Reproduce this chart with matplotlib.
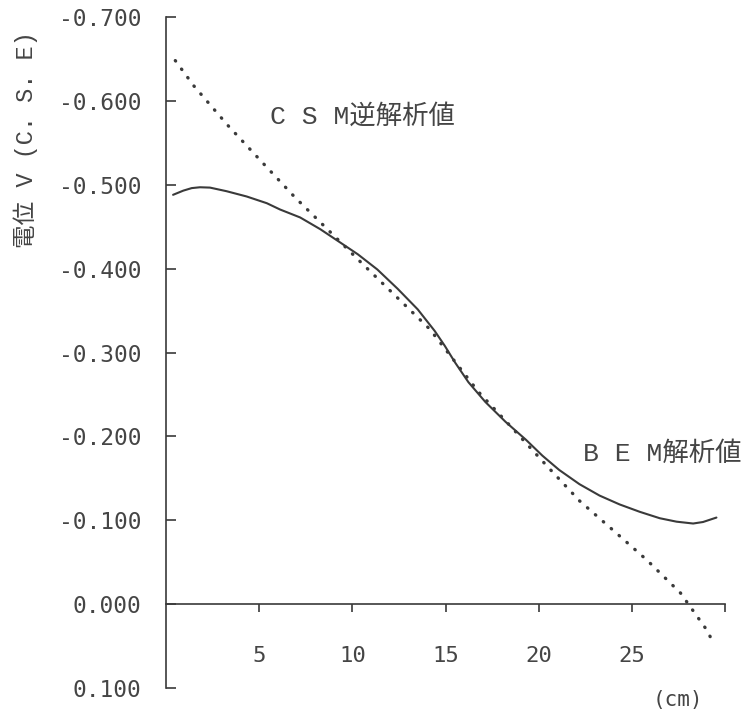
import matplotlib
matplotlib.use("Agg")
import matplotlib.pyplot as plt

# ---- data ----
bem_x = [0.38, 0.93, 1.38, 1.82, 2.36, 3.25, 4.33, 5.41, 6.12, 7.20, 8.28,
         9.36, 10.3, 11.34, 12.43, 13.51, 14.42, 14.96, 15.51, 16.23, 17.14,
         18.22, 19.32, 20.2, 21.1, 22.19, 23.27, 24.34, 25.42, 26.5, 27.4,
         28.29, 28.82, 29.54]
bem_y = [-0.488, -0.493, -0.496, -0.497, -0.4966, -0.4923, -0.486, -0.478,
         -0.4705, -0.461, -0.447, -0.431, -0.417, -0.399, -0.376, -0.3514,
         -0.3257, -0.308, -0.2882, -0.2646, -0.241, -0.2174, -0.1959, -0.177,
         -0.160, -0.143, -0.1294, -0.1189, -0.1101, -0.1024, -0.0983,
         -0.0961, -0.0979, -0.1032]

csm_x = [0.50, 1.49, 3.31, 5.11, 6.92, 8.73, 10.53, 12.34, 14.15, 16.77,
         18.58, 20.39, 22.2, 24.0, 25.81, 27.61, 29.06, 29.4]
csm_y = [-0.648, -0.618, -0.571, -0.528, -0.485, -0.4455, -0.406, -0.367,
         -0.328, -0.253, -0.210, -0.166, -0.123, -0.088, -0.0525, -0.0133,
         0.032, 0.048]

y_ticks = [-0.7, -0.6, -0.5, -0.4, -0.3, -0.2, -0.1, 0.0, 0.1]
y_labels = ["-0.700", "-0.600", "-0.500", "-0.400", "-0.300", "-0.200",
            "-0.100", "0.000", "0.100"]
x_ticks = [5, 10, 15, 20, 25, 30]
x_labels = ["5", "10", "15", "20", "25", ""]

ylabel = "電位 V (C. S. E)"
csm_label = "C S M逆解析値"
bem_label = "B E M解析値"
unit_label = "(cm)"

ink = "#3a3a3a"
txt = "#454545"
mono = "DejaVu Sans Mono"
mixed = ["Liberation Mono", "Noto Sans CJK JP"]

fig = plt.figure(figsize=(7.48, 7.18), dpi=100)
ax = fig.add_axes([166 / 748, 30 / 718, (725 - 166) / 748, (688 - 17) / 718])

ax.plot(bem_x, bem_y, color=ink, lw=1.5, solid_joinstyle="round",
        solid_capstyle="round")
ax.plot(csm_x, csm_y, color=ink, lw=2.4, linestyle=(0, (0.15, 3.0)),
        dash_capstyle="round")

ax.set_xlim(0, 30)
ax.set_ylim(0.1, -0.7)

for s in ["top", "right"]:
    ax.spines[s].set_visible(False)
ax.spines["bottom"].set_position(("data", 0))
for s in ["left", "bottom"]:
    ax.spines[s].set_color(ink)
    ax.spines[s].set_linewidth(1.2)

ax.set_yticks(y_ticks)
ax.set_yticklabels(y_labels, fontfamily=mono, fontsize=16.5, color=txt)
ax.set_xticks(x_ticks)
ax.set_xticklabels(x_labels, fontfamily=mono, fontsize=16, color=txt)
ax.tick_params(axis="y", direction="in", length=7, width=1.2, color=ink, pad=17.5)
ax.tick_params(axis="x", direction="out", length=6, width=1.2, color=ink, pad=24)

ax.text(5.6, -0.582, csm_label, fontfamily=mixed, fontsize=19, color=txt,
        ha="left", va="center")
ax.text(22.4, -0.179, bem_label, fontfamily=mixed, fontsize=19, color=txt,
        ha="left", va="center")

fig.text(26 / 748, 1 - 140 / 718, ylabel, rotation=90, fontfamily=mixed,
         fontsize=17, color=txt, ha="center", va="center")
fig.text(678 / 748, 1 - 700 / 718, unit_label, fontfamily=mono, fontsize=15,
         color=txt, ha="center", va="center")

fig.savefig("out.png", dpi=100, facecolor="white")
